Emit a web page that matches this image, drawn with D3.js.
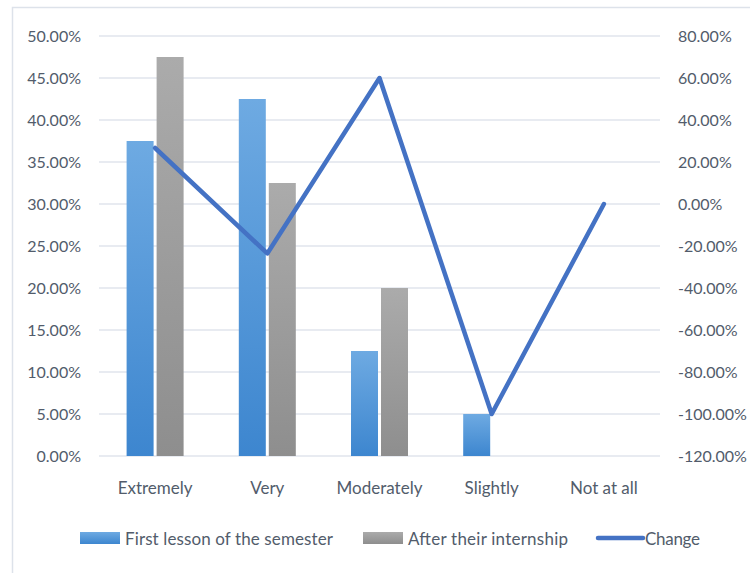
<!DOCTYPE html>
<html>
<head>
<meta charset="utf-8">
<script src="https://cdn.jsdelivr.net/npm/d3@7"></script>
<style>
  html, body { margin: 0; padding: 0; background: #fff; }
  svg { display: block; }
  text { font-family: Lato, "Open Sans", sans-serif; fill: #525c6b; }
</style>
</head>
<body>
<svg id="chart" width="750" height="573"></svg>
<script>
// Survey levels and shares of respondents
const categories = ["Extremely", "Very", "Moderately", "Slightly", "Not at all"];
const firstLesson = [0.375, 0.425, 0.125, 0.05, 0];
const afterInternship = [0.475, 0.325, 0.20, 0, 0];
// Relative change between the two surveys (right axis)
const change = [0.2667, -0.2353, 0.60, -1.00, 0];
const leftTicks = [0, 0.05, 0.10, 0.15, 0.20, 0.25, 0.30, 0.35, 0.40, 0.45, 0.50];
const rightTicks = [-1.2, -1.0, -0.8, -0.6, -0.4, -0.2, 0, 0.2, 0.4, 0.6, 0.8];
const seriesNames = ["First lesson of the semester", "After their internship", "Change"];

const svg = d3.select("#chart");
const plot = { left: 99, right: 660, top: 36, bottom: 456 };

// outer chart frame
svg.append("rect")
  .attr("x", 12.5).attr("y", 7.5).attr("width", 800).attr("height", 700)
  .attr("fill", "none").attr("stroke", "#dde2ea").attr("stroke-width", 1.5);

const defs = svg.append("defs");
function grad(id, top, bottom) {
  const g = defs.append("linearGradient").attr("id", id)
    .attr("x1", 0).attr("y1", 0).attr("x2", 0).attr("y2", 1);
  g.append("stop").attr("offset", "0%").attr("stop-color", top);
  g.append("stop").attr("offset", "100%").attr("stop-color", bottom);
}
grad("gBlue", "#6eaae2", "#3d86cf");
grad("gGray", "#ababab", "#8e8e8e");

const x = d3.scaleBand().domain(categories).range([plot.left, plot.right]);
const yL = d3.scaleLinear().domain([0, 0.5]).range([plot.bottom, plot.top]);
const yR = d3.scaleLinear().domain([-1.2, 0.8]).range([plot.bottom, plot.top]);

// horizontal gridlines
svg.append("g").selectAll("line").data(leftTicks).join("line")
  .attr("x1", plot.left).attr("x2", plot.right)
  .attr("y1", d => yL(d)).attr("y2", d => yL(d))
  .attr("stroke", "#e1e5ec").attr("stroke-width", 1.5);

// percentage labels with a plain hyphen for negatives
const fmt = d => d3.format(".2%")(d).replace("\u2212", "-");

// left axis
const leftAxis = svg.append("g").attr("transform", `translate(${plot.left - 18},0)`)
  .call(d3.axisLeft(yL).tickValues(leftTicks).tickFormat(fmt).tickSize(0).tickPadding(0));
leftAxis.select(".domain").remove();
leftAxis.selectAll("text").attr("font-size", 16).style("font-family", "Lato").attr("fill", "#525c6b").attr("dy", "0.35em");

// right axis
const rightAxis = svg.append("g").attr("transform", `translate(${plot.right + 18},0)`)
  .call(d3.axisRight(yR).tickValues(rightTicks).tickFormat(fmt).tickSize(0).tickPadding(0));
rightAxis.select(".domain").remove();
rightAxis.selectAll("text").attr("font-size", 16).style("font-family", "Lato").attr("fill", "#525c6b").attr("dy", "0.35em");

// bars
const inner = d3.scaleBand().domain([0, 1]).range([0, 57]).paddingInner(0.1);
const barGroups = svg.append("g").selectAll("g").data(categories).join("g")
  .attr("transform", d => `translate(${x(d) + x.bandwidth() / 2 - 28.5},0)`);
barGroups.append("rect")
  .attr("x", inner(0)).attr("width", inner.bandwidth())
  .attr("y", (d, i) => yL(firstLesson[i]))
  .attr("height", (d, i) => yL(0) - yL(firstLesson[i]))
  .attr("fill", "url(#gBlue)");
barGroups.append("rect")
  .attr("x", inner(1)).attr("width", inner.bandwidth())
  .attr("y", (d, i) => yL(afterInternship[i]))
  .attr("height", (d, i) => yL(0) - yL(afterInternship[i]))
  .attr("fill", "url(#gGray)");

// change line on right axis
const line = d3.line()
  .x((d, i) => x(categories[i]) + x.bandwidth() / 2)
  .y(d => yR(d));
svg.append("path").datum(change)
  .attr("d", line).attr("fill", "none")
  .attr("stroke", "#4472c4").attr("stroke-width", 4.5)
  .attr("stroke-linejoin", "round").attr("stroke-linecap", "round");

// category labels
svg.append("g").selectAll("text").data(categories).join("text")
  .attr("x", d => x(d) + x.bandwidth() / 2).attr("y", 494)
  .attr("text-anchor", "middle").attr("font-size", 17)
  .text(d => d);

// legend
const lg = svg.append("g");
lg.append("rect").attr("x", 80).attr("y", 532).attr("width", 40).attr("height", 12).attr("fill", "url(#gBlue)");
lg.append("text").attr("x", 125).attr("y", 545).attr("font-size", 17).attr("textLength", 208).text(seriesNames[0]);
lg.append("rect").attr("x", 363).attr("y", 532).attr("width", 40).attr("height", 12).attr("fill", "url(#gGray)");
lg.append("text").attr("x", 408).attr("y", 545).attr("font-size", 17).attr("textLength", 160).text(seriesNames[1]);
lg.append("line").attr("x1", 598).attr("x2", 643).attr("y1", 538).attr("y2", 538)
  .attr("stroke", "#4472c4").attr("stroke-width", 4.5).attr("stroke-linecap", "round");
lg.append("text").attr("x", 645).attr("y", 545).attr("font-size", 17).attr("textLength", 55).text(seriesNames[2]);
</script>
</body>
</html>
